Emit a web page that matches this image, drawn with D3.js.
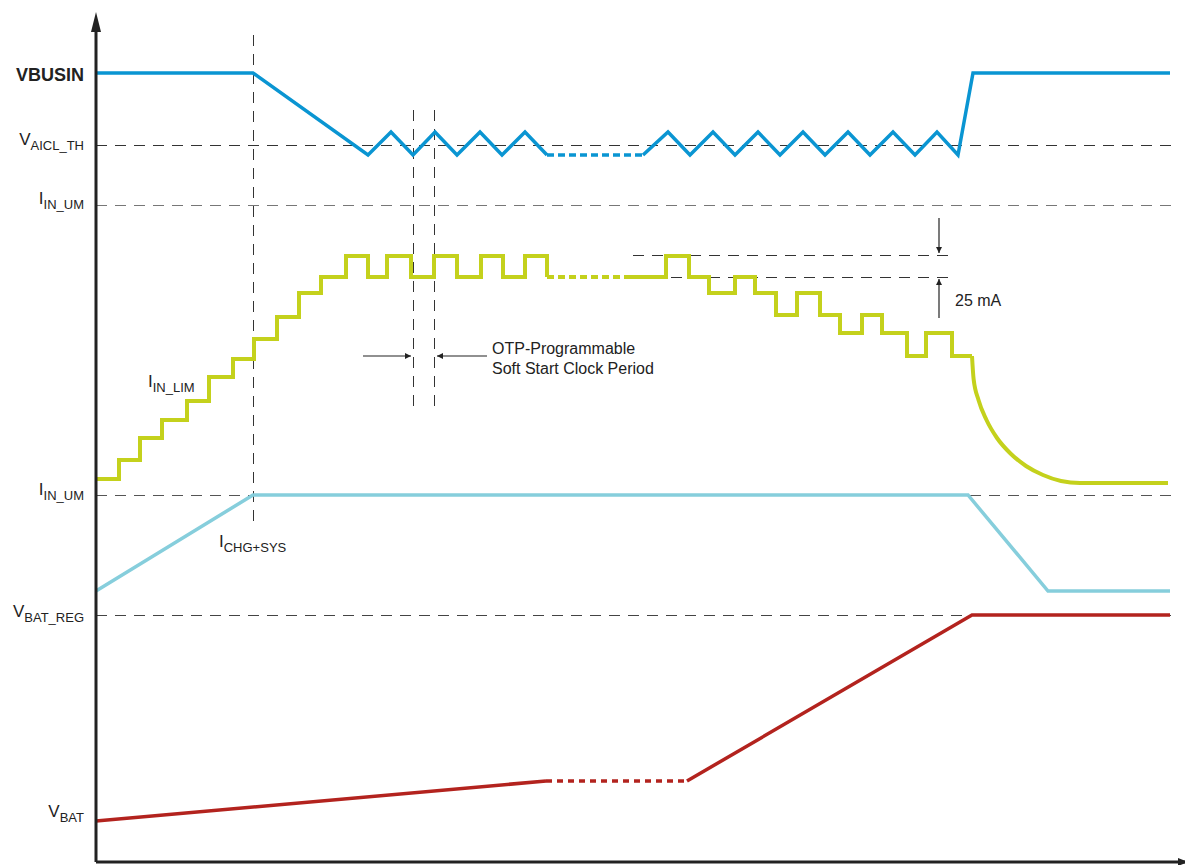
<!DOCTYPE html>
<html>
<head>
<meta charset="utf-8">
<script src="https://cdn.jsdelivr.net/npm/d3@7"></script>
<style>
body { margin: 0; background: #fff; }
text { font-family: "Liberation Sans", Arial, sans-serif; fill: #222; }
</style>
</head>
<body>
<div id="main_div"></div>
<script>
// time (t) and level (v) units
var vbus_a = [[0,789],[157,789],[272,707],[295,730],[317,707],[339,730],[361,707],[384,730],[406,707],[429,730],[451,707]];
var vbus_dot = [[451,707],[547,707]];
var vbus_b = [[547,707],[572,730],[594,707],[617,730],[639,707],[662,730],[684,707],[707,730],[729,707],[752,730],[774,707],[797,730],[819,707],[841,730],[862,707],[877,789],[1074,789]];

var ilim_a = [[0,383],[23,402],[44,424],[66,442],[91,461],[113,485],[137,503],[158,523],[181,545],[203,569],[225,585],[250,606],[272,585],[291,606],[315,585],[338,606],[361,585],[385,606],[407,585],[429,606],[451,585]];
var ilim_dot = [[451,585],[531,585]];
var ilim_b = [[531,585],[570,606],[593,585],[613,569],[639,585],[659,569],[680,547],[701,569],[724,547],[744,529],[766,547],[786,529],[811,506],[830,529],[856,506],[876,506]];
var ilim_tail = [[876,506],[877.6,483],[882.5,462],[890.5,442],[901,424],[914.5,408.5],[930,396],[947,387],[965,381],[984,379],[1072,379]];

var ichg = [[0,271],[157,367],[872,367],[952,271],[1074,271]];

var vbat_a = [[0,41],[450,81]];
var vbat_dot = [[450,81],[591,81]];
var vbat_b = [[591,81],[876,247],[1074,247]];

var ref_levels = [717, 657, 367, 247];
var ref_colors = ["#333", "#777", "#555", "#444"];
var step_levels = [607, 585];

var left_labels = [
    {main: "VBUSIN", sub: "", v: 781, bold: true},
    {main: "V", sub: "AICL_TH", v: 717},
    {main: "I", sub: "IN_UM", v: 658},
    {main: "I", sub: "IN_UM", v: 367},
    {main: "V", sub: "BAT_REG", v: 245},
    {main: "V", sub: "BAT", v: 45}
];

var x = d3.scaleLinear().domain([0, 1089]).range([96, 1185]);
var y = d3.scaleLinear().domain([0, 850]).range([862, 12]);

var svg = d3.select("#main_div").append("svg").attr("width", 1185).attr("height", 865);

var defs = svg.append("defs");
defs.append("marker").attr("id", "ah").attr("viewBox", "0 0 10 10").attr("refX", 10).attr("refY", 5)
    .attr("markerWidth", 7).attr("markerHeight", 6).attr("markerUnits", "userSpaceOnUse").attr("orient", "auto")
    .append("path").attr("d", "M0,0L10,5L0,10z").attr("fill", "#222");

var line = d3.line().x(function(d) { return x(d[0]); }).y(function(d) { return y(d[1]); });
var step = d3.line().x(function(d) { return x(d[0]); }).y(function(d) { return y(d[1]); }).curve(d3.curveStepAfter);
var smooth = d3.line().x(function(d) { return x(d[0]); }).y(function(d) { return y(d[1]); }).curve(d3.curveMonotoneX);

// reference dashed lines
svg.selectAll(".ref").data(ref_levels).enter().append("line")
    .attr("x1", x(0)).attr("x2", x(1079))
    .attr("y1", function(d) { return y(d); }).attr("y2", function(d) { return y(d); })
    .attr("stroke", function(d, i) { return ref_colors[i]; })
    .attr("stroke-width", 1).attr("shape-rendering", "crispEdges").attr("stroke-dasharray", "11,8");

svg.selectAll(".stepref").data(step_levels).enter().append("line")
    .attr("x1", x(537)).attr("x2", x(859))
    .attr("y1", function(d) { return y(d); }).attr("y2", function(d) { return y(d); })
    .attr("stroke", "#333").attr("stroke-width", 1).attr("shape-rendering", "crispEdges").attr("stroke-dasharray", "11,8");

// vertical markers
var vmarks = [[157, 827, 334], [317, 752, 452], [338, 752, 452]];
svg.selectAll(".vm").data(vmarks).enter().append("line")
    .attr("x1", function(d) { return x(d[0]); }).attr("x2", function(d) { return x(d[0]); })
    .attr("y1", function(d) { return y(d[1]); }).attr("y2", function(d) { return y(d[2]); })
    .attr("stroke", "#333").attr("stroke-width", 1).attr("shape-rendering", "crispEdges").attr("stroke-dasharray", "11,8");

// signals
function trace(data, gen, color, w, dash) {
    var p = svg.append("path").attr("d", gen(data)).attr("fill", "none")
        .attr("stroke", color).attr("stroke-width", w).attr("stroke-linejoin", "miter");
    if (dash) p.attr("stroke-dasharray", dash);
    return p;
}
trace(ichg, line, "#86cedc", 3.5);
trace(vbat_a, line, "#b3231e", 3.5);
trace(vbat_dot, line, "#b3231e", 3.5, "6,5");
trace(vbat_b, line, "#b3231e", 3.5);
trace(ilim_a, step, "#c4d11c", 4);
trace(ilim_dot, line, "#c4d11c", 4, "7,4");
trace(ilim_b, step, "#c4d11c", 4);
trace(ilim_tail, smooth, "#c4d11c", 4);
trace(vbus_a, line, "#0a95d2", 3.5);
trace(vbus_dot, line, "#0a95d2", 3.5, "7,4");
trace(vbus_b, line, "#0a95d2", 3.5);

// annotation arrows
var arrows = [[267, 506, 315, 506], [391, 506, 341, 506], [843, 644, 843, 609], [843, 544, 843, 583]];
svg.selectAll(".arr").data(arrows).enter().append("line")
    .attr("x1", function(d) { return x(d[0]); }).attr("y1", function(d) { return y(d[1]); })
    .attr("x2", function(d) { return x(d[2]); }).attr("y2", function(d) { return y(d[3]); })
    .attr("stroke", "#222").attr("stroke-width", 1.2).attr("marker-end", "url(#ah)");

// axes
svg.append("line").attr("x1", x(0)).attr("y1", y(0)).attr("x2", x(0)).attr("y2", y(832))
    .attr("stroke", "#222").attr("stroke-width", 3);
svg.append("path").attr("d", "M" + (x(0) - 5) + "," + y(830) + "L" + x(0) + "," + y(850) + "L" + (x(0) + 5) + "," + y(830) + "z")
    .attr("fill", "#222");
svg.append("line").attr("x1", x(0)).attr("y1", y(0)).attr("x2", x(1089)).attr("y2", y(0))
    .attr("stroke", "#222").attr("stroke-width", 3);
svg.append("path").attr("d", "M" + x(1082) + "," + (y(0) - 4) + "L" + x(1092) + "," + y(0) + "L" + x(1082) + "," + (y(0) + 4) + "z")
    .attr("fill", "#222");

// left labels
var lab = svg.selectAll(".lab").data(left_labels).enter().append("text")
    .attr("x", x(0) - 12).attr("y", function(d) { return y(d.v); })
    .attr("text-anchor", "end");
lab.append("tspan").attr("font-size", function(d) { return d.bold ? 18 : 17; })
    .attr("font-weight", function(d) { return d.bold ? "bold" : "normal"; })
    .text(function(d) { return d.main; });
lab.filter(function(d) { return d.sub; }).append("tspan").attr("font-size", 13).attr("dy", 5)
    .text(function(d) { return d.sub; });

// inline labels
function subLabel(t, v, main, sub) {
    var tx = svg.append("text").attr("x", x(t)).attr("y", y(v));
    tx.append("tspan").attr("font-size", 17).text(main);
    tx.append("tspan").attr("font-size", 13).attr("dy", 5).text(sub);
}
subLabel(52, 475, "I", "IN_LIM");
subLabel(123, 315, "I", "CHG+SYS");

svg.append("text").attr("x", x(396)).attr("y", y(508)).attr("font-size", 16).text("OTP-Programmable");
svg.append("text").attr("x", x(396)).attr("y", y(488)).attr("font-size", 16).text("Soft Start Clock Period");
svg.append("text").attr("x", x(859)).attr("y", y(556)).attr("font-size", 16).text("25 mA");
</script>
</body>
</html>
